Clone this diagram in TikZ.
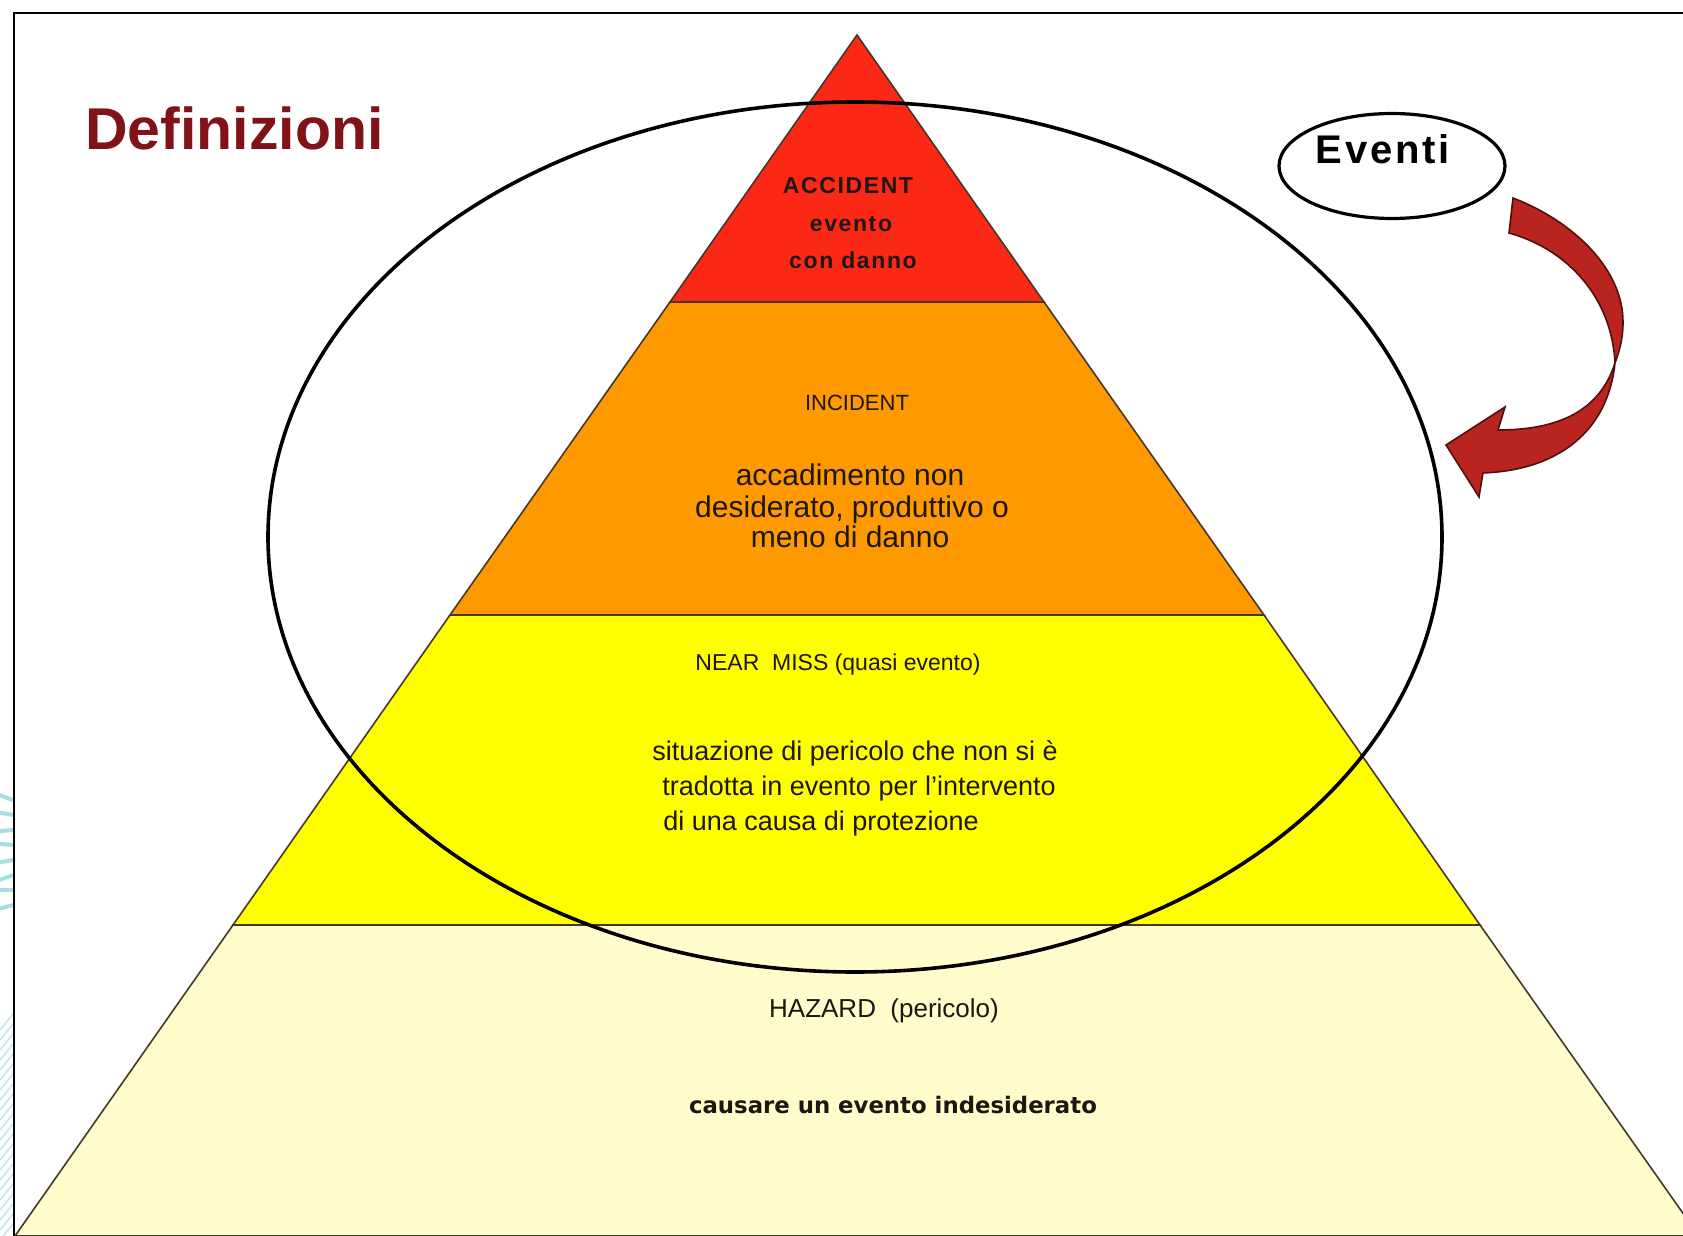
\documentclass[tikz,border=0pt]{standalone}
\usepackage{fontspec}
\setmainfont{Liberation Sans}
\newfontfamily\verdanalike{DejaVu Sans}
\usetikzlibrary{shapes.geometric}

\definecolor{accred}{RGB}{252,40,22}
\definecolor{incorange}{RGB}{255,153,0}
\definecolor{nearyellow}{RGB}{255,255,0}
\definecolor{hazcream}{RGB}{255,253,204}
\definecolor{titlered}{RGB}{128,18,24}
\definecolor{arrowred}{RGB}{186,36,30}
\definecolor{arrowedge}{RGB}{80,15,15}
\definecolor{layeredge}{RGB}{70,55,40}
\definecolor{bgteal}{RGB}{60,180,200}
\definecolor{inkdark}{RGB}{30,22,18}

\tikzset{
  layer/.style={draw=layeredge, line width=0.8pt, line join=miter},
  lbl/.style={inner sep=0pt, anchor=base, text=inkdark},
  lblw/.style={inner sep=0pt, anchor=base west, text=inkdark},
  ring/.style={draw=black, ellipse, inner sep=0pt, line width=1.6pt},
}

\begin{document}
\begin{tikzpicture}[x=0.5pt, y=-0.5pt]
  \useasboundingbox (0,0) rectangle (1683,1236);
  \clip (0,0) rectangle (1683,1236);
  \fill[white] (0,0) rectangle (1683,1236);

  % background brush strokes peeking in at the left edge
  \begin{scope}
    \clip (0,760) rectangle (13,1236);
    \foreach \yy/\ang in {800/200, 815/190, 830/175, 845/185, 860/170, 875/160, 890/180, 905/165}
      \draw[bgteal, opacity=0.45, line width=2pt] (13,\yy) -- ++(\ang:16);
    \foreach \yy in {1030,1040,...,1240}
      \draw[bgteal!55, opacity=0.5, line width=0.9pt] (0,\yy) -- (13,\yy-16);
  \end{scope}

  % frame
  \draw[line width=1.4pt] (14,1240) -- (14,13) -- (1690,13);

  % pyramid layers
  \coordinate (apex) at (857,35);
  \fill[hazcream, layer] (233,925) -- (1480,925) -- (1699,1236) -- (15,1236) -- cycle;
  \fill[nearyellow, layer] (450,615) -- (1264,615) -- (1480,925) -- (233,925) -- cycle;
  \fill[incorange, layer] (670,302) -- (1044,302) -- (1264,615) -- (450,615) -- cycle;
  \fill[accred, layer] (apex) -- (1044,302) -- (670,302) -- cycle;

  % ACCIDENT
  \begin{scope}[font=\bfseries\fontsize{11.5pt}{13pt}\selectfont\addfontfeature{LetterSpace=7}]
    \node[lbl] (acc1) at (848,193) {ACCIDENT};
    \node[lbl] (acc2) at (851,232) {evento};
    \node[lbl] (acc3) at (853,268) {con danno};
  \end{scope}

  % INCIDENT
  \node[lbl, font=\fontsize{11pt}{13pt}\selectfont] (inc0) at (857,410) {INCIDENT};
  \begin{scope}[font=\fontsize{15pt}{16pt}\selectfont]
    \node[lbl] (inc1) at (850,485) {accadimento non};
    \node[lbl] (inc2) at (852,517) {desiderato, produttivo o};
    \node[lbl] (inc3) at (850,547) {meno di danno};
  \end{scope}

  % NEAR MISS
  \node[lbl, font=\fontsize{11.5pt}{13pt}\selectfont] (near0) at (838,670) {NEAR\ \ MISS (quasi evento)};
  \begin{scope}[font=\fontsize{13.5pt}{15pt}\selectfont]
    \node[lblw] (near1) at (652,760) {situazione di pericolo che non si è};
    \node[lblw] (near2) at (662,795) {tradotta in evento per l'intervento};
    \node[lblw] (near3) at (663,830) {di una causa di protezione};
  \end{scope}

  % HAZARD
  \node[lbl, font=\fontsize{13pt}{15pt}\selectfont] (haz0) at (884,1017) {HAZARD\ \ (pericolo)};
  \node[lbl, font=\verdanalike\bfseries\fontsize{11.4pt}{13pt}\selectfont] (haz1) at (893,1113) {causare un evento indesiderato};

  % events ring over the upper layers
  \node[ring, line width=1.8pt, minimum width=587pt, minimum height=435pt] (events) at (855,537) {};

  % title
  \node[inner sep=0pt, anchor=base west, text=titlered,
        font=\bfseries\fontsize{29.5pt}{32pt}\selectfont] (title) at (85,150) {Definizioni};

  % "Eventi" bubble
  \node[ring, minimum width=113pt, minimum height=52.5pt] (bubble) at (1392,166) {};
  \node[lbl, text=black, font=\bfseries\fontsize{20pt}{22pt}\selectfont\addfontfeature{LetterSpace=7}] (bubbletext) at (1383,163) {Eventi};

  % twisted curved arrow pointing back at the ring
  \draw[fill=arrowred, draw=arrowedge, line width=0.8pt, line join=miter]
    (1513,198) .. controls (1575,222) and (1623,270) .. (1623,322)
    .. controls (1623,340) and (1619,352) .. (1615,363)
    .. controls (1608,430) and (1560,470) .. (1483,473)
    -- (1479,497) -- (1446,445) -- (1505,407) -- (1498,430)
    .. controls (1560,430) and (1600,410) .. (1615,363)
    .. controls (1612,300) and (1570,250) .. (1509,233)
    -- cycle;
\end{tikzpicture}
\end{document}
